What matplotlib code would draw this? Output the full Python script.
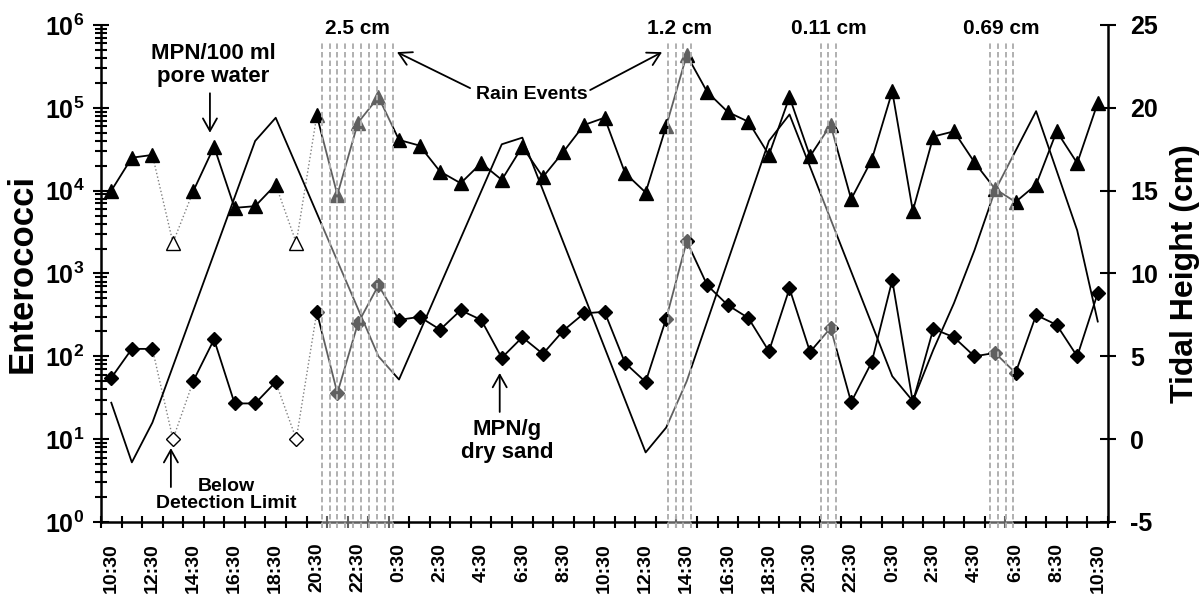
import matplotlib
matplotlib.use('Agg')
import matplotlib.pyplot as plt
import matplotlib.transforms as mtransforms
from matplotlib.ticker import LogLocator, NullFormatter
import numpy as np

plt.rcParams['font.family'] = ['Liberation Sans', 'DejaVu Sans']
plt.rcParams['font.weight'] = 'bold'
plt.rcParams['mathtext.fontset'] = 'custom'
plt.rcParams['mathtext.default'] = 'bf'
plt.rcParams['mathtext.bf'] = 'Liberation Sans:bold'
plt.rcParams['axes.unicode_minus'] = False

# hourly samples, 10:30 day 1 -> 10:30 day 3 ; labels every 2 h
hour_labels = ['10:30', '12:30', '14:30', '16:30', '18:30', '20:30', '22:30', '0:30',
               '2:30', '4:30', '6:30', '8:30', '10:30', '12:30', '14:30', '16:30',
               '18:30', '20:30', '22:30', '0:30', '2:30', '4:30', '6:30', '8:30', '10:30']

# MPN/100 ml pore water
pore = [10000, 25000, 27000, 2350, 10000, 34000, 6200, 6500, 11800, 2350,
        81000, 8900, 66000, 135000, 41000, 35000, 17000, 12300, 21500, 13500,
        34000, 14600, 29500, 62000, 76000, 16300, 9500, 60000, 435000, 155000,
        89000, 68000, 27000, 135000, 26000, 62000, 7900, 23500, 158000, 5700,
        45000, 52000, 22000, 10500, 7300, 11800, 52000, 21500, 115000]
# MPN/g dry sand
sand = [55, 123, 123, 10, 51, 160, 27, 27, 49, 10,
        343, 36, 250, 720, 275, 300, 210, 360, 275, 96,
        170, 107, 205, 330, 345, 83, 49, 285, 2450, 720,
        415, 290, 115, 660, 113, 220, 28, 85, 830, 28,
        215, 170, 100, 110, 63, 315, 240, 100, 580]
bdl = [3, 9]  # below detection limit

# tidal height (cm), at sample index
tide_idx = [0, 1, 2, 7, 8, 13, 14, 19, 20, 26, 27, 28, 32, 33, 38, 39,
            40, 41, 42, 43, 44, 45, 47, 48]
tide_cm = [2.2, -1.4, 1.0, 18.0, 19.4, 5.0, 3.6, 17.8, 18.2, -0.8, 0.7, 3.5,
           18.0, 19.6, 3.8, 2.3, 5.4, 8.2, 11.4, 15.0, 17.4, 19.8, 12.6, 7.1]

# rain events (in sample index units)
rain_lo = [10.24, 27.1, 34.52, 42.76]
rain_hi = [13.69, 28.21, 35.27, 43.89]
rain_n = [10, 4, 3, 4]
rain_txt = ['2.5 cm', '1.2 cm', '0.11 cm', '0.69 cm']

fig = plt.figure(figsize=(12.04, 5.98), dpi=100)
ax = fig.add_axes([0.0839, 0.1271, 0.8364, 0.8311])

x = np.arange(len(pore))
pore = np.array(pore, float)
sand = np.array(sand, float)
ok = np.ones(len(x), bool)
ok[bdl] = False

for vals, mk, ms in [(pore, '^', 10.5), (sand, 'D', 7.6)]:
    solid = vals.copy()
    solid[~ok] = np.nan
    ax.plot(x, solid, '-', color='k', lw=1.3, zorder=3)
    for b in bdl:
        ax.plot(x[b-1:b+2], vals[b-1:b+2], ':', color='#808080', lw=1.0, zorder=2)
    ax.plot(x[ok], vals[ok], mk, ms=ms, color='k', ls='none', zorder=4)
    ax.plot(x[~ok], vals[~ok], mk, ms=ms, mfc='white', mec='k', mew=1.0, ls='none', zorder=4)

ax.set_yscale('log')
ax.set_ylim(1, 1e6)
ax.set_xlim(-0.5, len(x) - 0.5)
ax.set_yticks([10.0**k for k in range(7)])
ax.set_yticklabels([r'$10^{%d}$' % k for k in range(7)])
ax.yaxis.set_minor_locator(LogLocator(base=10, subs=np.arange(2, 10)))
ax.yaxis.set_minor_formatter(NullFormatter())
ax.tick_params(axis='y', which='major', direction='inout', length=12, width=1.5, labelsize=18, pad=6)
ax.tick_params(axis='y', which='minor', direction='inout', length=9, width=1.5)

ax.set_xticks(np.arange(-0.5, len(x), 1))
ax.set_xticklabels([])
ax.set_xticks(np.arange(0, len(x), 2), minor=True)
ax.set_xticklabels(hour_labels, minor=True, rotation=90, va='top', ha='center')
ax.tick_params(axis='x', which='major', direction='inout', length=9, width=1.5)
ax.tick_params(axis='x', which='minor', length=0, labelsize=14, pad=15)

for s in ['top', 'right']:
    ax.spines[s].set_visible(False)
for s in ['left', 'bottom']:
    ax.spines[s].set_linewidth(1.8)

ax.set_ylabel('Enterococci', fontsize=25, fontweight='bold')
ax.yaxis.set_label_coords(-0.062, 0.5)

# annotations
arr = dict(arrowstyle='->,head_length=0.5,head_width=0.28', lw=1.3, color='k',
           shrinkA=0, shrinkB=0, mutation_scale=18)
ax.text(4.95, 3.3e5, 'MPN/100 ml\npore water', ha='center', va='center', fontsize=16, linespacing=1.1)
ax.annotate('', xy=(4.8, 5.0e4), xytext=(4.8, 1.5e5), arrowprops=arr)
ax.text(20.47, 1.43e5, 'Rain Events', ha='center', va='center', fontsize=14)
ax.annotate('', xy=(13.9, 4.7e5), xytext=(17.46, 1.73e5), arrowprops=arr)
ax.annotate('', xy=(26.8, 4.7e5), xytext=(23.3, 1.64e5), arrowprops=arr)
ax.text(19.26, 9.5, 'MPN/g\ndry sand', ha='center', va='center', fontsize=16, linespacing=1.1)
ax.annotate('', xy=(18.9, 63), xytext=(18.9, 21.3), arrowprops=arr)
ax.text(5.58, 2.12, 'Below\nDetection Limit', ha='center', va='center', fontsize=14, linespacing=1.0)
ax.annotate('', xy=(2.9, 7.8), xytext=(2.9, 2.64), arrowprops=arr)

# tidal height on the right axis
ax2 = ax.twinx()
ax2.plot(tide_idx, tide_cm, '-', color='k', lw=1.3, zorder=3)
ax2.set_ylim(-5, 25)
ax2.set_yticks(range(-5, 26, 5))
ax2.tick_params(axis='y', direction='inout', length=12, width=1.5, labelsize=18, pad=10)
for s in ['top', 'left', 'bottom']:
    ax2.spines[s].set_visible(False)
ax2.spines['right'].set_linewidth(1.8)
ax2.set_ylabel('Tidal Height (cm)', fontsize=23, fontweight='bold')
ax2.yaxis.set_label_coords(1.062, 0.5)

# rain event shading
trans = mtransforms.blended_transform_factory(ax2.transData, ax2.transAxes)
for lo, hi, n, txt in zip(rain_lo, rain_hi, rain_n, rain_txt):
    ax2.axvspan(lo, hi, ymin=-0.012, ymax=0.964, color='white', alpha=0.38, lw=0,
                zorder=5, clip_on=False)
    for xv in np.linspace(lo, hi, n):
        ax2.axvline(xv, ymin=-0.012, ymax=0.964, color='#b0b0b0', lw=1.4,
                    ls=(0, (2.8, 1.6)), zorder=6, clip_on=False)
    ax2.text((lo + hi) / 2, 0.992, txt, transform=trans, ha='center', va='center',
             fontsize=15, fontweight='bold')

fig.savefig('out.png', dpi=100)
